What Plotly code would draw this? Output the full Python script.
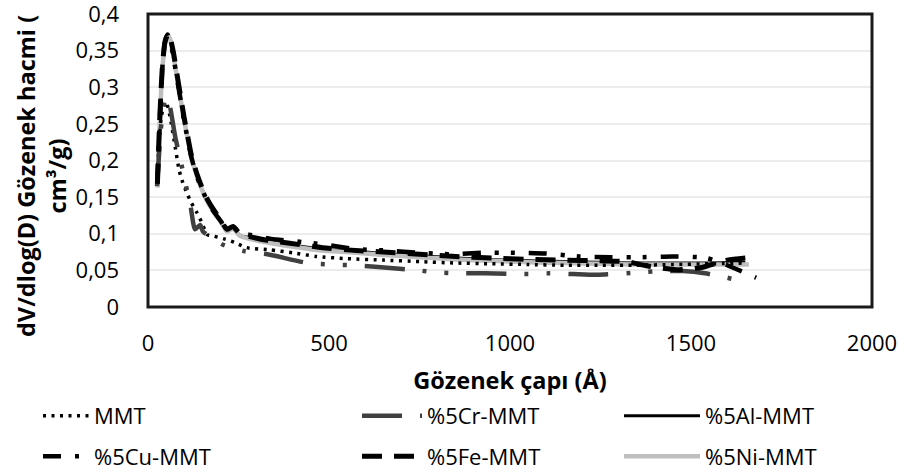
import plotly.graph_objects as go

# ---------------- data ----------------
mmt_x = [25, 32, 36, 41, 50, 60, 75, 86, 96, 107, 120, 135, 149, 163, 180, 210, 240, 273, 337, 400,
         466, 550, 650, 750, 850, 950, 1050, 1150, 1250, 1350, 1450, 1550, 1650]
mmt_y = [0.17, 0.235, 0.256, 0.27, 0.28, 0.262, 0.219, 0.187, 0.17, 0.156, 0.142, 0.129, 0.115, 0.099,
         0.097, 0.093, 0.088, 0.081, 0.078, 0.074, 0.069, 0.066, 0.064, 0.062, 0.06, 0.059, 0.058,
         0.057, 0.057, 0.057, 0.058, 0.059, 0.06]

cr_x = [25, 35, 43, 50, 60, 75, 90, 105, 116, 130, 144, 152, 175, 207, 268, 330, 442, 503, 566, 627,
        746, 801, 870, 931, 1050, 1110, 1174, 1240, 1354, 1414, 1478, 1538, 1600, 1655]
cr_y = [0.165, 0.24, 0.275, 0.287, 0.275, 0.233, 0.2, 0.165, 0.143, 0.106, 0.112, 0.103, 0.095, 0.085,
        0.076, 0.072, 0.06, 0.058, 0.057, 0.055, 0.05, 0.047, 0.046, 0.046, 0.045, 0.046, 0.045,
        0.044, 0.047, 0.049, 0.049, 0.046, 0.04, 0.033]

al_x = [26, 30, 35, 40, 47, 54, 62, 70, 80, 90, 100, 110, 120, 135, 150, 166, 185, 200, 218, 235,
        254, 290, 329, 392, 483, 550, 650, 750, 850, 950, 1050, 1150, 1250, 1350, 1450, 1550, 1650]
al_y = [0.165, 0.22, 0.28, 0.325, 0.36, 0.372, 0.365, 0.345, 0.315, 0.285, 0.255, 0.23, 0.205, 0.18,
        0.16, 0.143, 0.128, 0.118, 0.103, 0.108, 0.098, 0.094, 0.09, 0.085, 0.079, 0.077, 0.073,
        0.07, 0.067, 0.065, 0.063, 0.062, 0.061, 0.06, 0.06, 0.06, 0.061]

cu_x = [26, 30, 35, 40, 47, 54, 62, 70, 80, 90, 100, 110, 120, 135, 150, 166, 185, 200, 218, 235,
        260, 296, 340, 400, 490, 575, 663, 750, 840, 925, 1014, 1100, 1190, 1280, 1367, 1450, 1541,
        1600, 1680]
cu_y = [0.17, 0.225, 0.285, 0.33, 0.362, 0.372, 0.362, 0.342, 0.312, 0.283, 0.254, 0.228, 0.204,
        0.178, 0.16, 0.142, 0.128, 0.118, 0.106, 0.108, 0.101, 0.097, 0.093, 0.09, 0.085, 0.079,
        0.077, 0.074, 0.072, 0.074, 0.074, 0.073, 0.069, 0.068, 0.068, 0.069, 0.067, 0.057, 0.04]

fe_x = [26, 30, 35, 40, 47, 55, 62, 70, 80, 90, 100, 110, 120, 135, 150, 166, 185, 200, 218, 235,
        254, 290, 329, 392, 483, 550, 650, 750, 850, 950, 1050, 1150, 1250, 1320, 1380, 1460, 1530,
        1600, 1650]
fe_y = [0.168, 0.225, 0.285, 0.33, 0.362, 0.373, 0.366, 0.348, 0.318, 0.288, 0.258, 0.232, 0.207,
        0.182, 0.162, 0.145, 0.13, 0.12, 0.106, 0.11, 0.1, 0.095, 0.091, 0.087, 0.081, 0.078, 0.075,
        0.072, 0.069, 0.067, 0.065, 0.064, 0.063, 0.062, 0.056, 0.051, 0.054, 0.064, 0.067]

ni_x = [26, 30, 35, 40, 47, 54, 62, 70, 80, 90, 100, 110, 120, 135, 150, 166, 185, 200, 218, 235,
        254, 290, 329, 392, 483, 550, 650, 750, 850, 950, 1050, 1150, 1250, 1350, 1450, 1550, 1660]
ni_y = [0.163, 0.222, 0.282, 0.326, 0.36, 0.371, 0.364, 0.344, 0.314, 0.284, 0.254, 0.229, 0.204,
        0.179, 0.159, 0.142, 0.127, 0.117, 0.103, 0.107, 0.097, 0.092, 0.088, 0.083, 0.077, 0.075,
        0.071, 0.068, 0.065, 0.063, 0.061, 0.06, 0.059, 0.058, 0.058, 0.058, 0.058]

x_ticks = [0, 500, 1000, 1500, 2000]
x_ticktext = ["0", "500", "1000", "1500", "2000"]
y_ticks = [0, 0.05, 0.1, 0.15, 0.2, 0.25, 0.3, 0.35, 0.4]
y_ticktext = ["0", "0,05", "0,1", "0,15", "0,2", "0,25", "0,3", "0,35", "0,4"]

names = ["MMT", "%5Cr-MMT", "%5Al-MMT", "%5Cu-MMT", "%5Fe-MMT", "%5Ni-MMT"]
x_title = "Gözenek çapı (Å)"
y_title = "dV/dlog(D) Gözenek hacmi (<br>cm³/g)"

# ---------------- figure ----------------
fig = go.Figure()

def add(x, y, name, color, width, dash, rank, legend):
    fig.add_trace(go.Scatter(
        x=x, y=y, name=name, mode="lines",
        line=dict(color=color, width=width, dash=dash, shape="spline", smoothing=0.6),
        legendrank=rank, legend=legend, legendgroup=name, hoverinfo="skip"))

# drawing order (bottom to top); legends are columns
add(al_x, al_y, names[2], "#000000", 3, "solid", 1, "legend3")
add(ni_x, ni_y, names[5], "#bfbfbf", 4.5, "solid", 2, "legend3")
add(mmt_x, mmt_y, names[0], "#000000", 3.5, "3px,5.5px", 1, "legend")
add(cr_x, cr_y, names[1], "#404040", 4.5, "40px,18px,4px,18px,4px,18px", 1, "legend2")
add(cu_x, cu_y, names[3], "#000000", 4.5, "18px,14px,4px,12px,4px,14px", 2, "legend")
add(fe_x, fe_y, names[4], "#000000", 5, "20px,12px", 2, "legend2")

FONT = "Open Sans, Arial, sans-serif"
tick_font = dict(family=FONT, size=22, color="#000000")
title_font = dict(family=FONT, size=23.5, color="#000000")
leg_font = dict(family=FONT, size=22, color="#000000")

def legend_at(xpx, iw):
    return dict(orientation="v", x=(xpx - 148) / 724, xanchor="left",
                y=-0.300, yanchor="top", font=leg_font, tracegroupgap=9,
                bgcolor="rgba(0,0,0,0)", itemwidth=iw)

fig.update_layout(
    width=907, height=474,
    margin=dict(l=148, r=35, t=14, b=167, autoexpand=False),
    paper_bgcolor="white", plot_bgcolor="white",
    showlegend=True,
    legend=legend_at(38, 46),
    legend2=legend_at(357, 60),
    legend3=legend_at(619, 76),
    xaxis=dict(range=[0, 2000], tickvals=x_ticks, ticktext=x_ticktext, showgrid=False,
               zeroline=False, showline=False, ticks="", ticklabelstandoff=21,
               ticklabeloverflow="allow", tickfont=tick_font, automargin=False,
               title=dict(text="<b>" + x_title + "</b>", font=title_font, standoff=16)),
    yaxis=dict(range=[0, 0.4], tickvals=y_ticks, ticktext=y_ticktext, showgrid=True,
               gridcolor="#ececec", gridwidth=1.5, zeroline=False, showline=False, ticks="",
               ticklabelstandoff=28, ticklabeloverflow="allow", tickfont=tick_font,
               automargin=False),
)

fig.add_annotation(text="<b>" + y_title + "</b>", textangle=-90, font=title_font,
                   xref="paper", yref="paper", x=(41 - 148) / 724, y=(307 - 176) / 293,
                   xanchor="center", yanchor="middle", showarrow=False)

fig.add_shape(type="rect", xref="x domain", yref="y domain", x0=0, x1=1, y0=0, y1=1,
              line=dict(color="#1a1a1a", width=3), layer="above")

fig.write_html("out.html")
